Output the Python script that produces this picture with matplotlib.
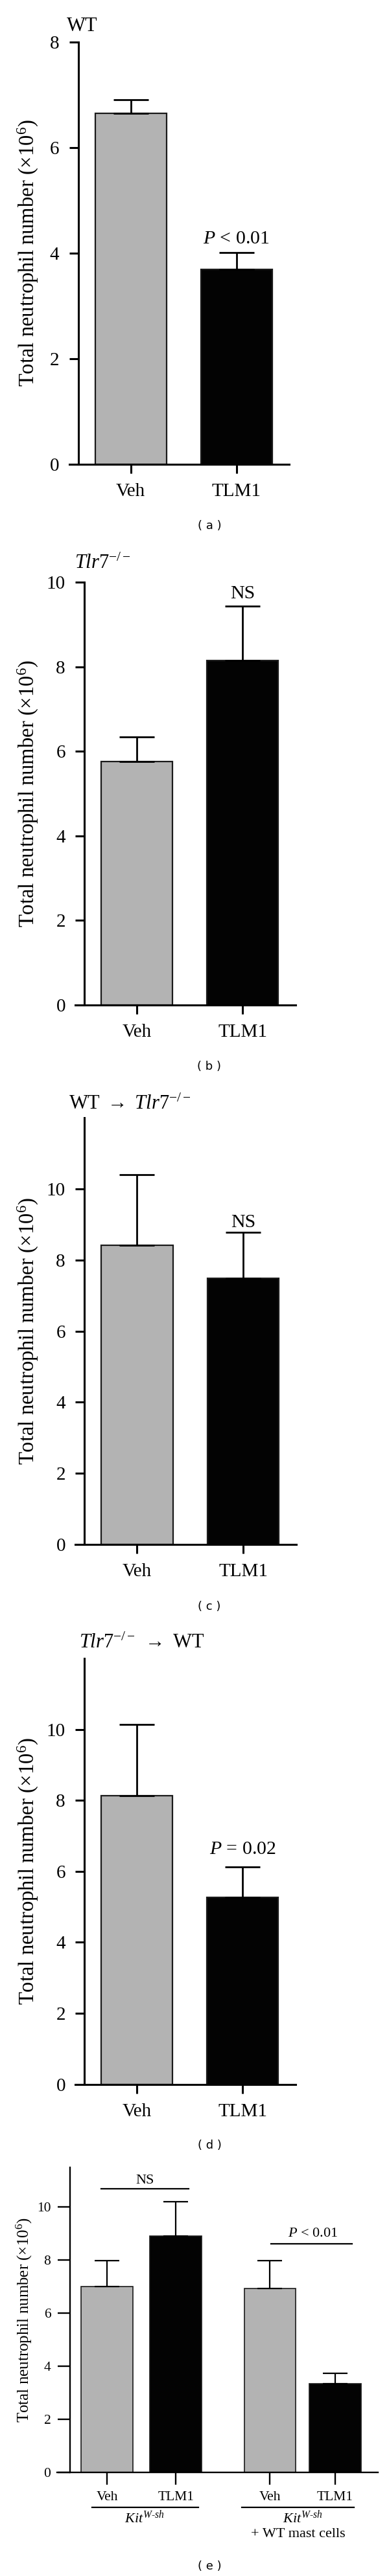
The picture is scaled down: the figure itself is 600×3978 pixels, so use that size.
import matplotlib
matplotlib.use('Agg')
import matplotlib.pyplot as plt
import matplotlib.transforms as mtransforms

# data (x10^6 neutrophils)
groups = ['Veh', 'TLM1']
wt_mean = [6.65, 3.69]
wt_err = [0.25, 0.32]
tlr7_mean = [5.76, 8.15]
tlr7_err = [0.58, 1.29]
wt_to_tlr7_mean = [8.41, 7.49]
wt_to_tlr7_err = [1.99, 1.28]
tlr7_to_wt_mean = [8.13, 5.27]
tlr7_to_wt_err = [2.0, 0.86]
kit_groups = ['Veh', 'TLM1', 'Veh', 'TLM1']
kit_mean = [7.0, 8.9, 6.93, 3.33]
kit_err = [0.97, 1.3, 1.04, 0.40]

GRAY = '#b3b3b3'
BLACK = '#030303'
W, H = 600, 3978

plt.rcParams['font.family'] = 'Liberation Serif'
plt.rcParams['mathtext.fontset'] = 'custom'
plt.rcParams['mathtext.rm'] = 'Liberation Serif'
plt.rcParams['mathtext.it'] = 'Liberation Serif:italic'

fig = plt.figure(figsize=(6, 39.78), dpi=100)
ylab = r'Total neutrophil number ($\times$10$^6$)'


def add_ax(x0, x1, yzero, ytop):
    return fig.add_axes([x0 / W, 1 - yzero / H, (x1 - x0) / W, (yzero - ytop) / H])


def style(ax, lw, ticklen, fs, pad):
    for s in ['top', 'right']:
        ax.spines[s].set_visible(False)
    ax.spines['left'].set_position(('axes', 0.04))
    ax.spines['left'].set_linewidth(lw)
    ax.spines['bottom'].set_linewidth(lw)
    ax.tick_params(direction='out', length=ticklen, width=lw, labelsize=fs, pad=pad)


def pair_panel(box, means, errs, ymax, yticks, title, title_xy, note, note_y, label, label_y):
    ax = add_ax(*box)
    x = [0, 1]
    ax.bar(x, means, width=0.675, color=[GRAY, BLACK], edgecolor='#1a1a1a', linewidth=1.6, zorder=2)
    ax.errorbar(x, means, yerr=[[0, 0], errs], fmt='none', ecolor='black',
                elinewidth=2, capsize=19.5, capthick=2, zorder=3)
    ax.set_xlim(-0.58, 1.5)
    ax.set_ylim(0, ymax)
    ax.set_yticks(yticks)
    ax.set_xticks(x)
    ax.set_xticklabels(groups)
    style(ax, 2.2, 10, 21, 11)
    ax.set_ylabel(ylab, fontsize=23.5, va='center')
    ax.yaxis.set_label_coords((43 - box[0]) / (box[1] - box[0]), 0.5)
    ax.text(1, note_y, note, ha='center', va='baseline', fontsize=21.5)
    fig.text(title_xy[0] / W, 1 - title_xy[1] / H, title, ha='left', va='baseline', fontsize=22)
    fig.text(323 / W, 1 - label_y / H, label, ha='center', va='center',
             fontsize=13, family='DejaVu Sans')
    return ax


pair_panel((107, 446, 717, 64.6), wt_mean, wt_err, 8, [0, 2, 4, 6, 8],
           'WT', (103, 48), r'$P$ < 0.01', 4.18, '( a )', 812)
pair_panel((116.5, 456, 1552, 899.2), tlr7_mean, tlr7_err, 10, [0, 2, 4, 6, 8, 10],
           r'$Tlr7^{-/-}$', (115, 878), 'NS', 9.62, '( b )', 1647)
pair_panel((116.5, 457, 2385, 1726), wt_to_tlr7_mean, wt_to_tlr7_err, 12, [0, 2, 4, 6, 8, 10],
           r'WT $\rightarrow$ $Tlr7^{-/-}$', (106, 1713), 'NS', 8.93, '( c )', 2481)
pair_panel((116.5, 456, 3218.6, 2561), tlr7_to_wt_mean, tlr7_to_wt_err, 12, [0, 2, 4, 6, 8, 10],
           r'$Tlr7^{-/-}$ $\rightarrow$ WT', (122, 2545), r'$P$ = 0.02', 6.49, '( d )', 3313)

# panel (e): Kit W-sh mice
box = (87.7, 582.7, 3818, 3346.5)
ax = add_ax(*box)
xk = [0, 1, 2.37, 3.32]
ax.bar(xk, kit_mean, width=0.75, color=[GRAY, BLACK, GRAY, BLACK],
       edgecolor='#1a1a1a', linewidth=1.2, zorder=2)
ax.errorbar(xk, kit_mean, yerr=[[0] * 4, kit_err], fmt='none', ecolor='black',
            elinewidth=1.6, capsize=13.7, capthick=1.6, zorder=3)
ax.set_xlim(-0.73, 3.94)
ax.set_ylim(0, 11.5)
ax.set_yticks([0, 2, 4, 6, 8, 10])
ax.set_xticks(xk)
ax.set_xticklabels(kit_groups)
style(ax, 1.7, 14, 15.5, 7)
ax.set_ylabel(ylab, fontsize=18, va='center')
ax.yaxis.set_label_coords((37.5 - box[0]) / (box[1] - box[0]), 0.5)

ax.plot([-0.09, 1.19], [10.68, 10.68], color='black', lw=1.6, clip_on=False)
ax.text(0.55, 10.89, 'NS', ha='center', va='baseline', fontsize=16)
ax.plot([2.39, 3.57], [8.6, 8.6], color='black', lw=1.6, clip_on=False)
ax.text(2.99, 8.88, r'$P$ < 0.01', ha='center', va='baseline', fontsize=16)

trans = mtransforms.blended_transform_factory(ax.transData, ax.transAxes)
ax.plot([-0.22, 1.33], [-0.1135, -0.1135], color='black', lw=1.6, transform=trans, clip_on=False)
ax.plot([1.96, 3.59], [-0.1135, -0.1135], color='black', lw=1.6, transform=trans, clip_on=False)
ax.text(0.55, -0.1485, r'$Kit^{W\text{-}sh}$', ha='center', va='center', fontsize=16, transform=trans)
ax.text(2.85, -0.1485, r'$Kit^{W\text{-}sh}$', ha='center', va='center', fontsize=16, transform=trans)
ax.text(2.78, -0.2015, '+ WT mast cells', ha='center', va='center', fontsize=16, transform=trans)
fig.text(323 / W, 1 - 3963 / H, '( e )', ha='center', va='center', fontsize=13, family='DejaVu Sans')

fig.savefig('out.png', dpi=100)
